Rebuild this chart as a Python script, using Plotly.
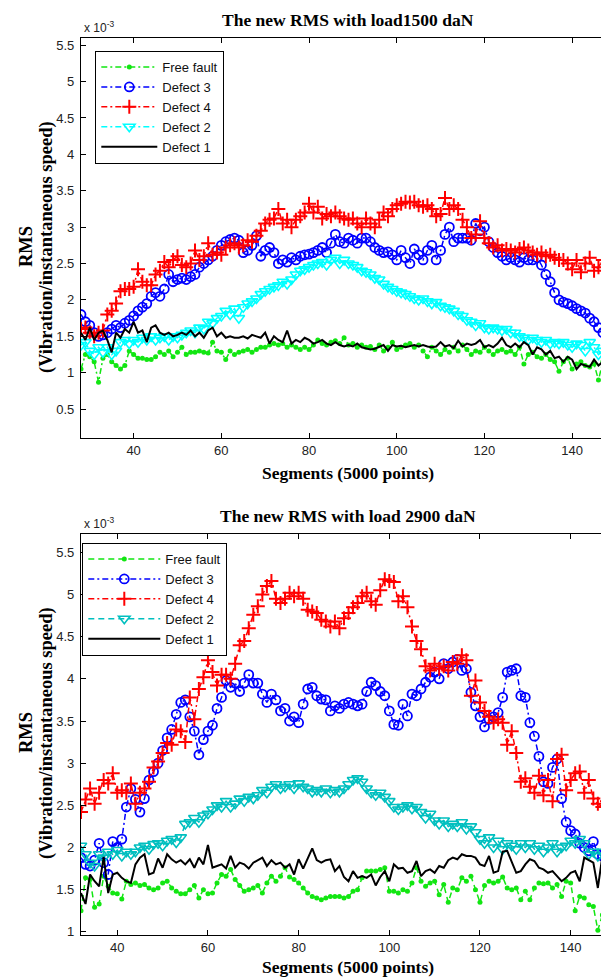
import plotly.graph_objects as go

# ---------------- data (RMS values in units of 1e-3) ----------------
seg_top = list(range(28, 151))
seg_bot = list(range(32, 151))

top_free = [1.05, 1.25, 1.22, 1.15, 0.87, 1.20, 1.25, 1.15, 1.10, 1.05, 1.10, 1.30, 1.25, 1.20, 1.20, 1.18, 1.18, 1.22, 1.28, 1.25,
            1.30, 1.22, 1.28, 1.35, 1.25, 1.28, 1.28, 1.30, 1.28, 1.27, 1.42, 1.30, 1.28, 1.18, 1.30, 1.25, 1.28, 1.30, 1.32, 1.28,
            1.32, 1.35, 1.35, 1.38, 1.40, 1.38, 1.40, 1.35, 1.38, 1.35, 1.32, 1.35, 1.32, 1.38, 1.45, 1.40, 1.38, 1.42, 1.44, 1.40,
            1.48, 1.38, 1.40, 1.35, 1.38, 1.35, 1.36, 1.32, 1.38, 1.30, 1.35, 1.42, 1.32, 1.35, 1.38, 1.40, 1.35, 1.38, 1.30, 1.22,
            1.35, 1.30, 1.25, 1.32, 1.28, 1.35, 1.30, 1.38, 1.32, 1.25, 1.30, 1.28, 1.35, 1.30, 1.25, 1.30, 1.32, 1.28, 1.30, 1.25,
            1.35, 1.12, 1.25, 1.28, 1.22, 1.20, 1.25, 1.18, 1.15, 1.02, 1.15, 1.20, 1.05, 1.12, 1.15, 1.10, 1.08, 1.12, 0.90, 1.15,
            1.10, 1.05, 1.10]
top_d3 = [1.80, 1.70, 1.65, 1.55, 1.50, 1.52, 1.55, 1.60, 1.65, 1.62, 1.68, 1.72, 1.78, 1.85, 1.90, 1.95, 2.05, 2.10, 2.05, 2.15,
          2.35, 2.25, 2.28, 2.30, 2.28, 2.32, 2.35, 2.45, 2.50, 2.55, 2.60, 2.68, 2.75, 2.80, 2.83, 2.85, 2.82, 2.65, 2.68, 2.75,
          2.88, 2.60, 2.68, 2.72, 2.65, 2.50, 2.55, 2.52, 2.58, 2.55, 2.60, 2.62, 2.63, 2.65, 2.68, 2.72, 2.65, 2.78, 2.90, 2.80,
          2.78, 2.85, 2.82, 2.78, 2.85, 2.85, 2.80, 2.72, 2.68, 2.65, 2.66, 2.62, 2.55, 2.68, 2.58, 2.50, 2.70, 2.62, 2.55, 2.68,
          2.75, 2.55, 2.68, 2.90, 3.00, 2.80, 2.85, 2.85, 2.85, 2.82, 3.05, 2.95, 3.00, 2.80, 2.72, 2.65, 2.60, 2.55, 2.58, 2.55,
          2.52, 2.58, 2.55, 2.55, 2.58, 2.48, 2.35, 2.25, 2.10, 2.00, 1.97, 1.95, 1.92, 1.88, 1.85, 1.82, 1.75, 1.70, 1.62, 1.55,
          1.58, 1.55, 1.48]
top_d4 = [1.60, 1.62, 1.55, 1.50, 1.55, 1.58, 1.80, 1.85, 1.95, 2.12, 2.15, 2.15, 2.18, 2.42, 2.25, 2.20, 2.20, 2.35, 2.40, 2.52,
          2.45, 2.55, 2.60, 2.48, 2.45, 2.50, 2.68, 2.55, 2.60, 2.78, 2.62, 2.65, 2.62, 2.72, 2.75, 2.78, 2.72, 2.75, 2.82, 2.80,
          2.88, 2.95, 3.05, 3.10, 3.12, 3.25, 3.05, 3.10, 3.00, 3.10, 3.15, 3.20, 3.32, 3.20, 3.28, 3.12, 3.18, 3.15, 3.20, 3.15,
          3.12, 3.10, 3.12, 3.05, 3.00, 3.12, 3.05, 3.00, 3.10, 3.20, 3.15, 3.25, 3.30, 3.32, 3.35, 3.34, 3.35, 3.30, 3.28, 3.30,
          3.25, 3.15, 3.18, 3.40, 3.25, 3.30, 3.25, 3.10, 3.00, 2.85, 2.90, 3.08, 2.85, 2.78, 2.72, 2.75, 2.68, 2.70, 2.68, 2.65,
          2.70, 2.72, 2.68, 2.65, 2.62, 2.65, 2.60, 2.62, 2.58, 2.55, 2.55, 2.50, 2.42, 2.55, 2.38, 2.50, 2.58, 2.40, 2.45, 2.55,
          2.50, 2.42, 2.25]
top_d2 = [1.38, 1.42, 1.30, 1.25, 1.35, 1.28, 1.35, 1.25, 1.30, 1.42, 1.45, 1.40, 1.45, 1.42, 1.48, 1.45, 1.50, 1.45, 1.48, 1.50,
          1.45, 1.50, 1.48, 1.52, 1.55, 1.58, 1.55, 1.62, 1.60, 1.70, 1.68, 1.75, 1.78, 1.85, 1.80, 1.88, 1.75, 1.90, 1.95, 1.98,
          2.02, 2.08, 2.12, 2.15, 2.18, 2.20, 2.25, 2.22, 2.28, 2.35, 2.40, 2.42, 2.45, 2.48, 2.50, 2.52, 2.48, 2.55, 2.58, 2.50,
          2.55, 2.50, 2.48, 2.45, 2.40, 2.38, 2.35, 2.30, 2.28, 2.22, 2.18, 2.15, 2.12, 2.10, 2.08, 2.05, 2.02, 2.00, 2.02, 1.98,
          1.95, 1.97, 1.92, 1.90, 1.88, 1.85, 1.80, 1.78, 1.72, 1.70, 1.65, 1.68, 1.62, 1.60, 1.62, 1.60, 1.58, 1.60, 1.55, 1.55,
          1.50, 1.48, 1.45, 1.48, 1.45, 1.42, 1.45, 1.40, 1.42, 1.40, 1.42, 1.38, 1.35, 1.40, 1.38, 1.30, 1.42, 1.35, 1.25, 1.30,
          1.35, 1.38, 1.40]
top_d1 = [1.55, 1.45, 1.62, 1.45, 1.55, 1.58, 1.45, 1.28, 1.55, 1.48, 1.60, 1.55, 1.70, 1.55, 1.58, 1.42, 1.62, 1.65, 1.55, 1.52,
          1.55, 1.50, 1.52, 1.55, 1.52, 1.58, 1.50, 1.55, 1.48, 1.58, 1.62, 1.50, 1.55, 1.48, 1.50, 1.48, 1.48, 1.50, 1.47, 1.52,
          1.50, 1.48, 1.55, 1.40, 1.50, 1.45, 1.42, 1.58, 1.40, 1.45, 1.42, 1.48, 1.45, 1.40, 1.42, 1.45, 1.40, 1.38, 1.42, 1.38,
          1.36, 1.38, 1.36, 1.40, 1.35, 1.33, 1.32, 1.33, 1.35, 1.38, 1.30, 1.38, 1.36, 1.37, 1.35, 1.36, 1.38, 1.36, 1.38, 1.36,
          1.35, 1.36, 1.42, 1.36, 1.38, 1.34, 1.44, 1.36, 1.40, 1.38, 1.40, 1.45, 1.35, 1.38, 1.35, 1.40, 1.48, 1.38, 1.35, 1.40,
          1.35, 1.42, 1.38, 1.25, 1.35, 1.32, 1.25, 1.30, 1.20, 1.22, 1.15, 1.22, 1.18, 1.05, 1.12, 1.10, 1.08, 1.18, 1.10, 1.15,
          0.95, 1.12, 1.00]

bot_free = [1.25, 1.64, 1.62, 1.29, 1.33, 1.66, 1.54, 1.46, 1.45, 1.39, 1.60, 1.56, 1.58, 1.55, 1.56, 1.52, 1.50, 1.52, 1.58, 1.60,
            1.52, 1.48, 1.45, 1.45, 1.50, 1.55, 1.40, 1.50, 1.45, 1.46, 1.58, 1.68, 1.66, 1.74, 1.62, 1.55, 1.48, 1.50, 1.52, 1.55,
            1.46, 1.58, 1.66, 1.60, 1.66, 1.76, 1.65, 1.62, 1.58, 1.52, 1.46, 1.42, 1.40, 1.38, 1.40, 1.42, 1.42, 1.42, 1.40, 1.42,
            1.48, 1.50, 1.64, 1.72, 1.72, 1.72, 1.74, 1.76, 1.48, 1.48, 1.46, 1.50, 1.48, 1.58, 1.76, 1.60, 1.54, 1.58, 1.60, 1.44,
            1.56, 1.35, 1.52, 1.50, 1.64, 1.60, 1.66, 1.50, 1.35, 1.55, 1.60, 1.58, 1.60, 1.65, 1.52, 1.50, 1.52, 1.38, 1.48, 1.38,
            1.52, 1.58, 1.57, 1.58, 1.52, 1.56, 1.42, 1.60, 1.58, 1.25, 1.42, 1.40, 1.32, 1.30, 1.02, 1.20, 1.25, 1.00, 1.15]
bot_d3 = [1.88, 1.80, 1.78, 1.85, 2.05, 1.82, 1.68, 2.07, 2.00, 2.10, 2.48, 2.70, 2.57, 2.42, 2.58, 2.80, 2.90, 3.00, 3.15, 3.30,
          3.40, 3.58, 3.72, 3.75, 3.55, 3.38, 3.10, 3.28, 3.38, 3.45, 3.65, 3.78, 3.98, 3.90, 3.95, 3.85, 3.95, 4.05, 3.95, 3.95,
          3.82, 3.72, 3.82, 3.75, 3.62, 3.65, 3.50, 3.55, 3.48, 3.70, 3.88, 3.90, 3.80, 3.76, 3.75, 3.62, 3.68, 3.65, 3.70, 3.72,
          3.70, 3.68, 3.70, 3.85, 3.96, 3.92, 3.85, 3.80, 3.62, 3.46, 3.45, 3.70, 3.56, 3.82, 3.80, 3.88, 3.96, 4.02, 4.08, 4.00,
          4.18, 4.12, 4.20, 4.23, 4.10, 4.12, 3.84, 3.68, 3.55, 3.43, 3.52, 3.55, 3.60, 3.78, 4.08, 4.10, 4.12, 3.80, 3.78, 3.48,
          3.32, 3.08, 2.78, 2.76, 2.95, 3.05, 2.58, 2.30, 2.20, 2.16, 2.05, 2.00, 1.96, 2.07, 1.92, 1.90, 1.85, 1.88, 1.80]
bot_d4 = [2.42, 2.57, 2.70, 2.52, 2.65, 2.80, 2.76, 2.88, 2.65, 2.68, 2.65, 2.76, 2.52, 2.65, 2.70, 2.78, 2.95, 3.02, 3.12, 3.24,
          3.22, 3.40, 3.38, 3.25, 3.78, 3.52, 3.88, 4.02, 4.22, 4.08, 3.92, 4.05, 4.05, 4.00, 4.18, 4.40, 4.45, 4.60, 4.76, 4.86,
          5.00, 5.10, 5.16, 4.95, 4.90, 4.95, 5.02, 4.98, 5.02, 4.95, 4.82, 4.80, 4.78, 4.70, 4.68, 4.62, 4.68, 4.60, 4.72, 4.78,
          4.85, 4.90, 4.98, 5.02, 4.92, 4.88, 5.05, 5.18, 5.16, 5.15, 4.92, 4.98, 4.85, 4.62, 4.45, 4.35, 4.15, 4.10, 4.18, 4.12,
          4.15, 4.10, 4.20, 4.18, 4.28, 4.22, 3.80, 3.98, 3.72, 3.62, 3.55, 3.48, 3.52, 3.48, 3.22, 3.38, 3.12, 2.78, 2.82, 2.72,
          2.65, 2.85, 2.62, 2.80, 2.55, 3.05, 3.10, 2.68, 2.80, 2.88, 2.90, 2.65, 2.80, 2.58, 2.52, 2.48, 2.55, 2.45, 2.40]
bot_d2 = [2.02, 1.92, 1.82, 1.78, 1.92, 1.88, 1.95, 1.92, 1.97, 1.90, 1.95, 1.92, 1.95, 2.00, 2.02, 1.98, 2.04, 2.05, 2.02, 2.08,
          2.10, 2.06, 2.12, 2.28, 2.30, 2.35, 2.30, 2.38, 2.40, 2.45, 2.50, 2.48, 2.55, 2.48, 2.52, 2.58, 2.55, 2.60, 2.58, 2.62,
          2.68, 2.65, 2.72, 2.75, 2.70, 2.72, 2.75, 2.70, 2.76, 2.72, 2.70, 2.66, 2.68, 2.66, 2.70, 2.65, 2.68, 2.66, 2.70, 2.75,
          2.80, 2.82, 2.78, 2.70, 2.65, 2.62, 2.65, 2.60, 2.55, 2.48, 2.45, 2.48, 2.50, 2.46, 2.48, 2.42, 2.35, 2.40, 2.32, 2.28,
          2.32, 2.25, 2.28, 2.25, 2.30, 2.22, 2.25, 2.18, 2.10, 2.05, 2.12, 2.00, 2.08, 1.98, 2.05, 2.02, 1.98, 2.05, 2.00, 2.05,
          1.98, 2.02, 1.95, 2.00, 2.05, 1.95, 2.00, 2.02, 2.08, 2.05, 2.10, 2.05, 1.92, 1.95, 1.90, 1.95, 1.88, 1.90, 1.85]
bot_d1 = [1.46, 1.33, 1.68, 1.60, 1.54, 1.89, 1.46, 1.68, 1.70, 1.64, 1.60, 1.58, 1.80, 1.88, 1.92, 1.68, 1.70, 1.87, 1.76, 1.92,
          1.86, 1.82, 1.85, 1.80, 1.86, 1.76, 1.88, 1.80, 2.03, 1.76, 1.78, 1.80, 1.75, 1.90, 1.76, 1.82, 1.80, 1.75, 1.82, 1.85,
          1.88, 1.78, 1.85, 1.80, 1.82, 1.76, 1.80, 1.68, 1.86, 1.75, 1.88, 1.99, 1.85, 1.82, 1.85, 1.86, 1.72, 1.78, 1.65, 1.60,
          1.72, 1.64, 1.66, 1.64, 1.68, 1.55, 1.65, 1.72, 1.60, 1.80, 1.75, 1.76, 1.70, 1.72, 1.84, 1.66, 1.72, 1.74, 1.70, 1.78,
          1.76, 1.85, 1.88, 1.86, 1.92, 1.90, 1.90, 1.88, 1.80, 1.78, 1.90, 1.70, 1.72, 1.95, 1.96, 1.82, 1.70, 1.72, 1.80, 1.86,
          1.84, 1.76, 1.74, 1.70, 1.72, 1.66, 1.60, 1.64, 1.70, 1.72, 1.60, 1.88, 1.85, 1.82, 1.52, 1.90, 1.88, 1.78, 1.62]

names = ["Free fault", "Defect 3", "Defect 4", "Defect 2", "Defect 1"]
titles = ["The new RMS with load1500 daN", "The new RMS with load 2900 daN"]
y_ticks = [0.5, 1, 1.5, 2, 2.5, 3, 3.5, 4, 4.5, 5, 5.5]
x_ticks = [40, 60, 80, 100, 120, 140]

# ---------------- figure ----------------
W, H = 609, 977
fig = go.Figure()

GREEN = "#12e612"
DASHDOT = "6px,3px,2px,3px"
DASH = "6px,4px"

def add_series(x, ys, xa, ya, leg, cyan_col, free_dash, d2_dash):
    styles = [
        dict(line=dict(color=GREEN, width=1.5, dash=free_dash),
             marker=dict(symbol="circle", size=5, color=GREEN)),
        dict(line=dict(color="#0000ff", width=1.5, dash=DASHDOT),
             marker=dict(symbol="circle-open", size=9, color="#0000ff", line=dict(width=1.8, color="#0000ff"))),
        dict(line=dict(color="#ff0000", width=1.5, dash=DASHDOT),
             marker=dict(symbol="cross-thin", size=10, color="#ff0000", line=dict(width=2, color="#ff0000"))),
        dict(line=dict(color=cyan_col, width=1.5, dash=d2_dash),
             marker=dict(symbol="triangle-down-open", size=10, color=cyan_col, line=dict(width=1.6, color=cyan_col))),
        dict(line=dict(color="#000000", width=2, dash="solid"), marker=dict(size=1)),
    ]
    for i, (nm, y, st) in enumerate(zip(names, ys, styles)):
        mode = "lines" if i == 4 else "lines+markers"
        fig.add_trace(go.Scatter(x=x, y=y, name=nm, mode=mode, xaxis=xa, yaxis=ya,
                                 legend=leg, **st))

add_series(seg_top, [top_free, top_d3, top_d4, top_d2, top_d1], "x", "y", "legend",
           "#00ffff", DASHDOT, DASHDOT)
add_series(seg_bot, [bot_free, bot_d3, bot_d4, bot_d2, bot_d1], "x2", "y2", "legend2",
           "#00bfbf", DASH, DASH)

def px_x(p):
    return p / W

def px_y(p):
    return 1 - p / H

tick_font = dict(family="Liberation Sans, Arial, sans-serif", size=13, color="#222")
axis_common = dict(showgrid=False, zeroline=False, showline=True, linecolor="black", linewidth=1.3,
                   mirror="ticks", ticks="inside", ticklen=5, tickcolor="black", tickwidth=1,
                   tickfont=tick_font)
xa_extra = dict(ticklabelstandoff=0)
ya_extra = dict(ticklabelstandoff=3)
leg_font = dict(family="Liberation Sans, Arial", size=13, color="#111")

# top panel: x 73-608 px, y 30-432 px ; bottom panel: x 73-608, y 528-931
fig.update_layout(
    width=W, height=H, margin=dict(l=0, r=0, t=0, b=0),
    paper_bgcolor="white", plot_bgcolor="white",
    xaxis=dict(domain=[px_x(73), px_x(608)], range=[28, 150], anchor="y", tickvals=x_ticks,
               **axis_common, **xa_extra),
    yaxis=dict(domain=[px_y(432), px_y(30)], range=[0.1, 5.6], anchor="x", tickvals=y_ticks,
               **axis_common, **ya_extra),
    xaxis2=dict(domain=[px_x(73), px_x(608)], range=[32, 150], anchor="y2", tickvals=x_ticks,
                **axis_common, **xa_extra),
    yaxis2=dict(domain=[px_y(931), px_y(528)], range=[0.96, 5.72], anchor="x2", tickvals=y_ticks[1:],
                **axis_common, **ya_extra),
    legend=dict(x=px_x(87), y=px_y(43), xanchor="left", yanchor="top", bgcolor="white",
                bordercolor="black", borderwidth=1.3, font=leg_font,
                tracegroupgap=0, itemwidth=56),
    legend2=dict(x=px_x(74), y=px_y(537), xanchor="left", yanchor="top", bgcolor="white",
                 bordercolor="black", borderwidth=1.3, font=leg_font,
                 tracegroupgap=0, itemwidth=72),
    showlegend=True,
)

serif_t = dict(family="Liberation Serif, Times New Roman, serif", size=17.5, color="black")
serif_x = dict(family="Liberation Serif, Times New Roman, serif", size=17.5, color="black")
serif_y = dict(family="Liberation Serif, Times New Roman, serif", size=18.5, color="black")
ann = []
for title, ytop, ybot, ymid, xlab_y in [(titles[0], 30, 432, 240, 467), (titles[1], 528, 931, 728, 963)]:
    xc = px_x(340)
    ann.append(dict(text="<b>%s</b>" % title, x=xc, y=px_y(ytop - 18), xref="paper", yref="paper",
                    showarrow=False, font=serif_t, xanchor="center", yanchor="middle"))
    ann.append(dict(text="x 10<sup>-3</sup>", x=px_x(74), y=px_y(ytop - 11), xref="paper", yref="paper",
                    showarrow=False, font=dict(family="Liberation Sans, Arial", size=12, color="#222"),
                    xanchor="left", yanchor="middle"))
    ann.append(dict(text="<b>Segments (5000 points)</b>", x=xc, y=px_y(xlab_y), xref="paper", yref="paper",
                    showarrow=False, font=serif_x, xanchor="center", yanchor="middle"))
    yc = px_y(ymid)
    ann.append(dict(text="<b>RMS</b>", x=px_x(18), y=yc, xref="paper", yref="paper", textangle=-90,
                    showarrow=False, font=serif_y, xanchor="center", yanchor="middle"))
    ann.append(dict(text="<b>(Vibration/instantaneous speed)</b>", x=px_x(38), y=yc, xref="paper", yref="paper",
                    textangle=-90, showarrow=False, font=serif_y, xanchor="center", yanchor="middle"))
fig.update_layout(annotations=ann)

fig.write_html("out.html")
